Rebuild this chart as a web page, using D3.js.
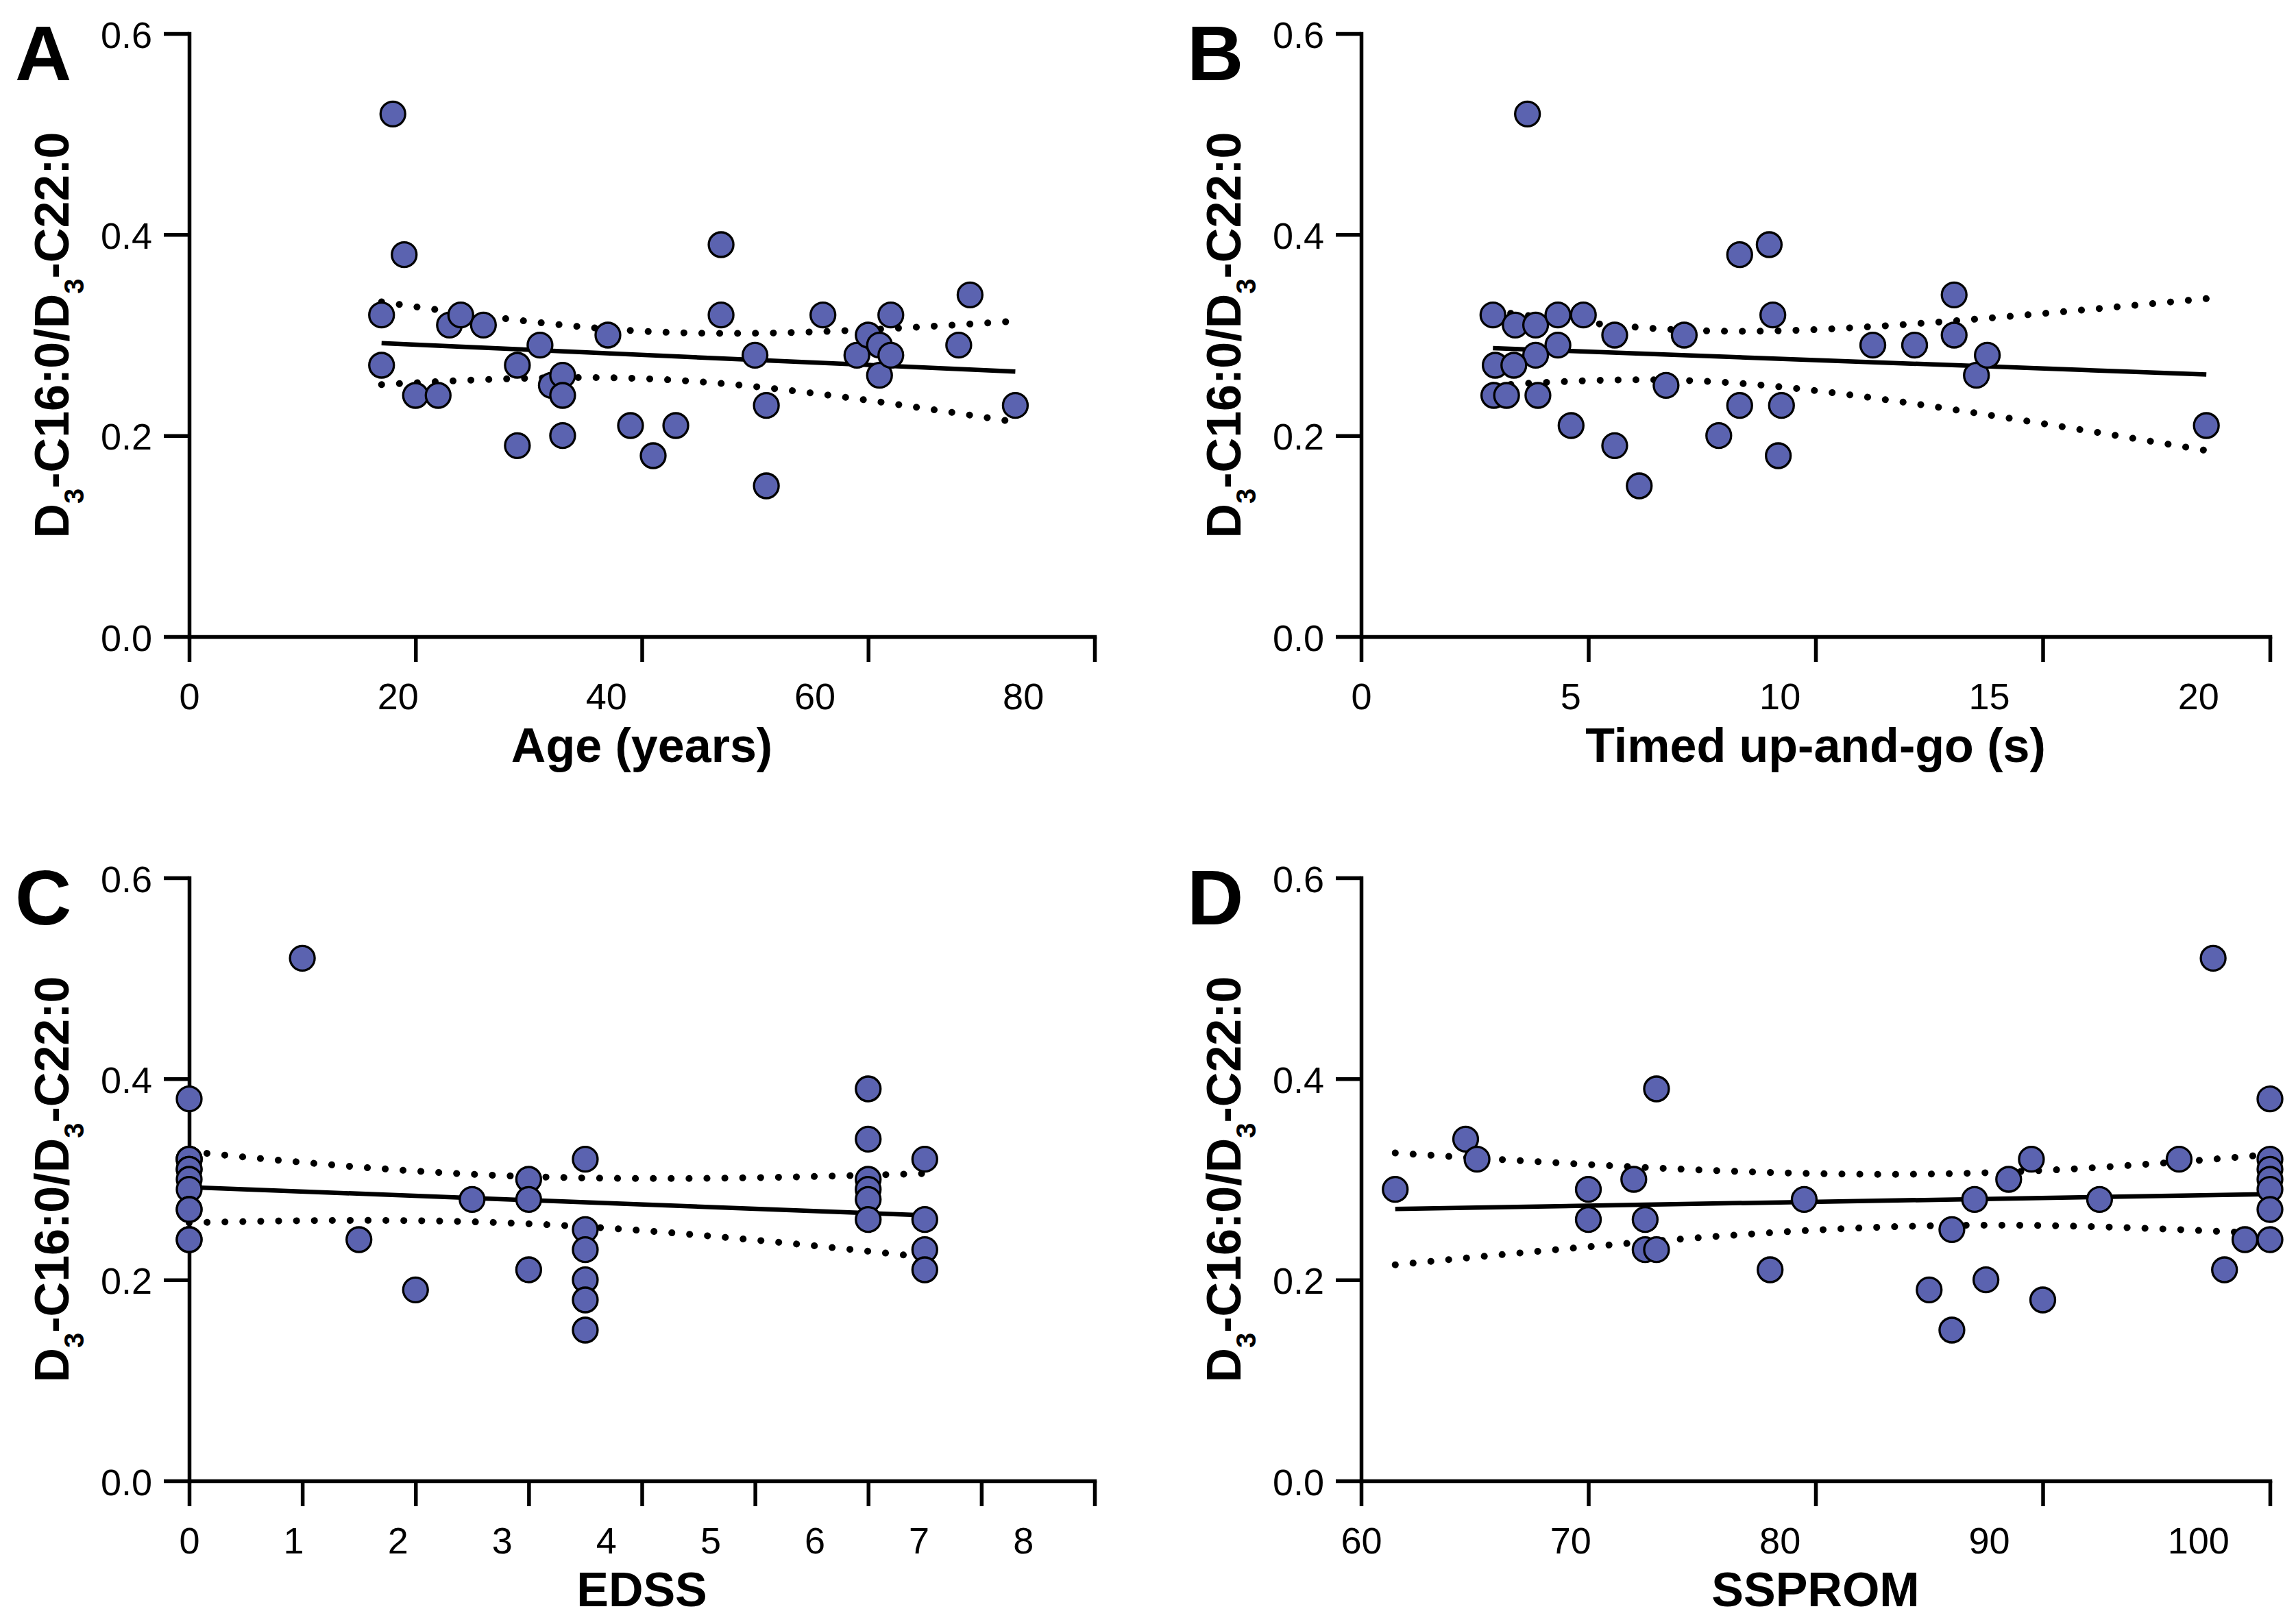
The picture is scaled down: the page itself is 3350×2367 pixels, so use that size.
<!DOCTYPE html>
<html><head><meta charset="utf-8">
<script src="https://cdn.jsdelivr.net/npm/d3@7"></script>
<style>body{margin:0;background:#fff} svg{display:block;background:#fff}</style>
</head><body>
<svg id="chart" width="3350" height="2367"></svg>
<script>
// ---------- data ----------
const yTicks = [0, 0.2, 0.4, 0.6];
const yTickLabels = ["0.0", "0.2", "0.4", "0.6"];
const yTitleParts = ["D", "3", "-C16:0/D", "3", "-C22:0"];

const ageX = [18,19,17,17,20,22,23,24,26,29,29,31,32,33,33,33,37,39,41,43,47,47,50,51,51,56,59,60,61,61,62,62,68,69,73];
const ageY = [0.52,0.38,0.32,0.27,0.24,0.24,0.31,0.32,0.31,0.27,0.19,0.29,0.25,0.26,0.24,0.20,0.30,0.21,0.18,0.21,0.39,0.32,0.28,0.23,0.15,0.32,0.28,0.30,0.29,0.26,0.32,0.28,0.29,0.34,0.23];
const ageTicks = [0, 20, 40, 60, 80];

const tugX = [3.66,2.90,3.39,3.84,4.33,4.89,4.33,3.84,2.95,3.36,2.92,3.20,3.89,4.62,5.58,5.58,6.12,6.71,7.11,7.87,8.33,8.33,8.98,9.06,9.25,9.18,11.26,12.18,13.05,13.05,13.54,13.78,18.6];
const tugY = [0.52,0.32,0.31,0.31,0.32,0.32,0.29,0.28,0.27,0.27,0.24,0.24,0.24,0.21,0.30,0.19,0.15,0.25,0.30,0.20,0.38,0.23,0.39,0.32,0.23,0.18,0.29,0.29,0.34,0.30,0.26,0.28,0.21];
const tugTicks = [0, 5, 10, 15, 20];

// EDSS: the stack at 0 hides overlapping patients (same 35 values as panel A)
const edssX = [0,0,0,0,0,0,0,0,0,0,0,0,1,1.5,2,2.5,3,3,3,3.5,3.5,3.5,3.5,3.5,3.5,6,6,6,6,6,6,6.5,6.5,6.5,6.5];
const edssY = [0.38,0.32,0.32,0.32,0.31,0.31,0.30,0.29,0.27,0.27,0.24,0.24,0.52,0.24,0.19,0.28,0.30,0.28,0.21,0.32,0.25,0.23,0.20,0.18,0.15,0.39,0.34,0.30,0.29,0.28,0.26,0.32,0.26,0.23,0.21];
const edssTicks = [0, 1, 2, 3, 4, 5, 6, 7, 8];

const sspromX = [61.5,64.6,65.1,70,70,72,72.5,72.5,73,73,78,79.5,85,86,86,87,87.5,88.5,89.5,90,92.5,96,97.5,98,98.9,100,100,100,100,100,100,100];
const sspromY = [0.29,0.34,0.32,0.29,0.26,0.30,0.26,0.23,0.23,0.39,0.21,0.28,0.19,0.25,0.15,0.28,0.20,0.30,0.32,0.18,0.28,0.32,0.52,0.21,0.24,0.38,0.32,0.31,0.30,0.29,0.27,0.24];
const sspromTicks = [60, 70, 80, 90, 100];

// ---------- layout ----------
const panels = [
  {letter:"A", xs:ageX, ys:ageY, ticks:ageTicks, title:"Age (years)", x0:276, x1:1597, yT:49, yB:929},
  {letter:"B", xs:tugX, ys:tugY, ticks:tugTicks, title:"Timed up-and-go (s)", x0:1986, x1:3312, yT:49, yB:929},
  {letter:"C", xs:edssX, ys:edssY, ticks:edssTicks, title:"EDSS", x0:276, x1:1597, yT:1281, yB:2161},
  {letter:"D", xs:sspromX, ys:sspromY, ticks:sspromTicks, title:"SSPROM", x0:1986, x1:3312, yT:1281, yB:2161}
];

const FONT = "'Liberation Sans', Arial, Helvetica, sans-serif";
const FILL = "#5b63b0";
const LABEL_SQUEEZE = 0.921;

function tQuant(df){
  const z = 1.959964;
  return z + (z*z*z + z)/(4*df) + (5*Math.pow(z,5) + 16*z*z*z + 3*z)/(96*df*df)
           + (3*Math.pow(z,7) + 19*Math.pow(z,5) + 17*z*z*z - 15*z)/(384*df*df*df);
}
function fit(xs, ys){
  const n = xs.length, mx = d3.mean(xs), my = d3.mean(ys);
  let sxx = 0, sxy = 0;
  xs.forEach((x,i) => { sxx += (x-mx)*(x-mx); sxy += (x-mx)*(ys[i]-my); });
  const b = sxy/sxx, a = my - b*mx;
  let sse = 0;
  xs.forEach((x,i) => { const r = ys[i] - (a + b*x); sse += r*r; });
  const s = Math.sqrt(sse/(n-2));
  return {n, mx, sxx, a, b, s, t: tQuant(n-2)};
}

const svg = d3.select("#chart");
svg.append("rect").attr("width",3350).attr("height",2367).attr("fill","#fff");

panels.forEach(p => {
  const g = svg.append("g");
  const x = d3.scaleLinear().domain([p.ticks[0], p.ticks[p.ticks.length-1]]).range([p.x0, p.x1]);
  const y = d3.scaleLinear().domain([0, 0.6]).range([p.yB, p.yT]);

  // y axis
  const ya = g.append("g").attr("transform", `translate(${p.x0},0)`)
    .call(d3.axisLeft(y).tickValues(yTicks).tickFormat((d,i) => yTickLabels[i]).tickSizeInner(37).tickSizeOuter(0));
  // x axis
  const xa = g.append("g").attr("transform", `translate(0,${p.yB})`)
    .call(d3.axisBottom(x).tickValues(p.ticks).tickFormat(d3.format("d")).tickSizeInner(37).tickSizeOuter(0));

  [ya, xa].forEach(a => {
    a.selectAll(".domain").attr("stroke","#000").attr("stroke-width",5.5).attr("stroke-linecap","square");
    a.selectAll(".tick line").attr("stroke","#000").attr("stroke-width",5.5);
    a.selectAll("text").attr("font-family",FONT).attr("font-size",54).attr("fill","#000");
  });
  ya.selectAll("text").attr("x",-54).attr("dy",null).attr("y",20);
  // tick labels in the reference are spaced slightly tighter than the tick marks
  xa.selectAll(".tick").each(function(d){
    const shift = (x(d) - x(p.ticks[0])) * (LABEL_SQUEEZE - 1);
    d3.select(this).select("text").attr("x", shift).attr("dy", null).attr("y", 106);
  });

  // regression and 95% CI
  const f = fit(p.xs, p.ys);
  const [xmin, xmax] = d3.extent(p.xs);
  const xsamp = d3.range(0, 81).map(i => xmin + (xmax - xmin)*i/80);
  const half = xv => f.t * f.s * Math.sqrt(1/f.n + (xv - f.mx)*(xv - f.mx)/f.sxx);
  const line = d3.line().x(d => x(d[0])).y(d => y(d[1]));

  g.append("path").attr("d", line([[xmin, f.a + f.b*xmin],[xmax, f.a + f.b*xmax]]))
    .attr("fill","none").attr("stroke","#000").attr("stroke-width",6.5);
  [1, -1].forEach(sg => {
    g.append("path").attr("d", line(xsamp.map(xv => [xv, f.a + f.b*xv + sg*half(xv)])))
      .attr("fill","none").attr("stroke","#000").attr("stroke-width",10)
      .attr("stroke-linecap","round").attr("stroke-dasharray","0.1 26");
  });

  // points
  g.append("g").selectAll("circle").data(p.xs.map((v,i) => [v, p.ys[i]])).join("circle")
    .attr("cx", d => x(d[0])).attr("cy", d => y(d[1])).attr("r", 18)
    .attr("fill", FILL).attr("stroke","#000").attr("stroke-width",3.3);

  // axis title
  g.append("text").attr("x", (p.x0 + p.x1)/2).attr("y", p.yB + 183)
    .attr("text-anchor","middle").attr("font-family",FONT).attr("font-weight","bold")
    .attr("font-size",70).text(p.title);

  // y title with subscripts
  const yt = g.append("text")
    .attr("transform", `translate(${p.x0 - 176},${(p.yT + p.yB)/2}) rotate(-90)`)
    .attr("text-anchor","middle").attr("font-family",FONT).attr("font-weight","bold").attr("font-size",70);
  yTitleParts.forEach((t,i) => {
    const sub = i % 2 === 1;
    yt.append("tspan").attr("font-size", sub ? 40 : 70).attr("dy", sub ? 22 : (i > 0 ? -22 : 0)).text(t);
  });

  // panel letter
  g.append("text").attr("x", p.x0 - 254).attr("y", p.yT + 68)
    .attr("font-family",FONT).attr("font-weight","bold").attr("font-size",114).text(p.letter);
});
</script>
</body></html>
